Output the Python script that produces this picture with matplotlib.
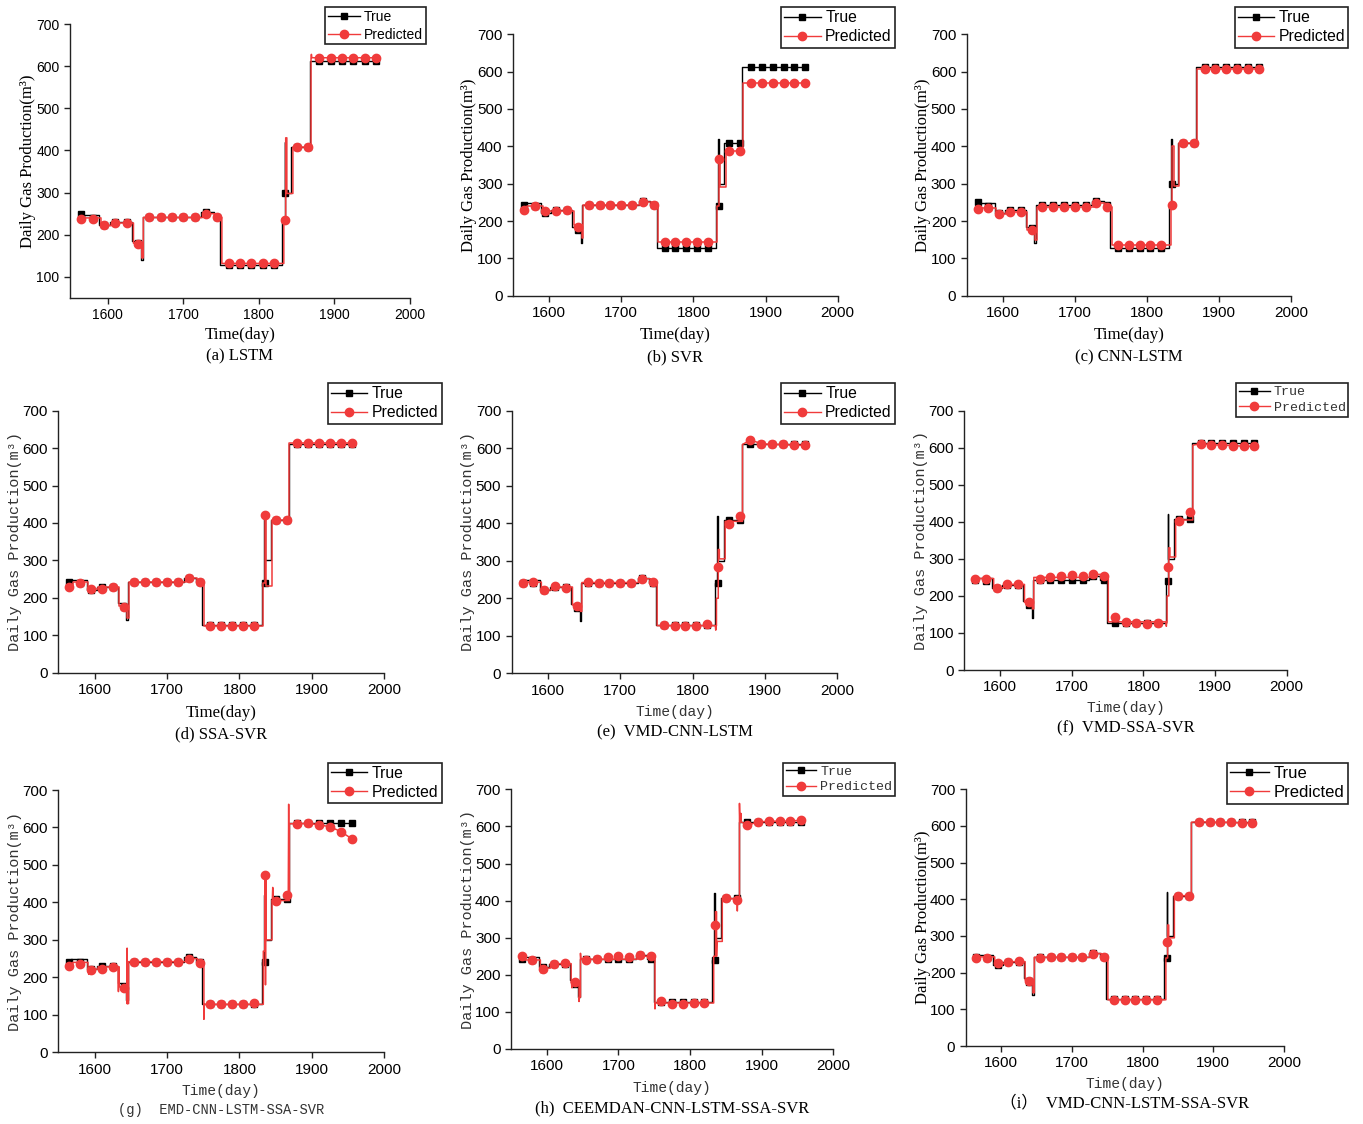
import numpy as np
import matplotlib.pyplot as plt

W, H = 1363, 1124

# marker days (one sample every ~15 days)
marker_days = [1565, 1580, 1595, 1610, 1625, 1640, 1655, 1670, 1685, 1700, 1715, 1730, 1745,
               1760, 1775, 1790, 1805, 1820, 1835, 1850, 1865, 1880, 1895, 1910, 1925, 1940, 1955]

# true production profile (step changes)
true_starts = [1563, 1568, 1589, 1603, 1632, 1644, 1646, 1724, 1740, 1749, 1831, 1834, 1835, 1843, 1868]
true_levels = [245, 248, 222, 230, 185, 140, 242, 253, 242, 128, 240, 420, 300, 408, 612]
last_day = 1955

true_marks = [242, 240, 222, 230, 230, 175, 242, 242, 242, 242, 242, 253, 242,
              128, 128, 128, 128, 128, 240, 408, 408, 612, 612, 612, 612, 612, 612]
true_marks_ac = [250, 240, 222, 230, 230, 180, 242, 242, 242, 242, 242, 253, 242,
                 128, 128, 128, 128, 128, 300, 408, 408, 612, 612, 612, 612, 612, 612]

# predicted profiles (lagged steps)
pred_starts = [1563, 1570, 1591, 1605, 1634, 1645, 1647, 1726, 1742, 1751, 1833, 1835.5, 1837, 1845, 1869]

pred_levels = {
    'a': [238, 240, 222, 228, 180, 145, 241, 250, 241, 132, 235, 430, 298, 408, 620],
    'b': [232, 240, 226, 228, 190, 155, 243, 251, 243, 145, 240, 365, 290, 388, 570],
    'c': [233, 235, 219, 225, 177, 150, 238, 247, 238, 136, 243, 400, 295, 408, 607],
    'd': [232, 242, 223, 228, 178, 145, 242, 252, 242, 125, 240, 421, 232, 407, 615],
    'e': [240, 243, 222, 230, 182, 165, 242, 252, 240, 127, 200, 330, 305, 405, 610],
    'f': [245, 247, 222, 231, 183, 165, 250, 258, 254, 130, 200, 330, 305, 405, 607],
    'g': [232, 240, 222, 228, 175, 130, 242, 250, 240, 128, 270, 472, 300, 405, 610],
    'h': [250, 240, 218, 230, 180, 140, 242, 250, 248, 124, 250, 370, 290, 405, 612],
    'i': [240, 243, 225, 230, 180, 145, 242, 252, 242, 126, 240, 330, 295, 410, 610],
}

pred_marks = {
    'a': [237, 238, 222, 228, 228, 177, 241, 241, 241, 241, 241, 250, 241,
          132, 132, 132, 132, 132, 234, 408, 408, 620, 620, 620, 620, 620, 620],
    'b': [230, 240, 226, 226, 230, 185, 243, 243, 243, 243, 243, 250, 243,
          145, 145, 145, 145, 145, 365, 388, 388, 570, 570, 570, 570, 570, 570],
    'c': [233, 235, 219, 225, 225, 176, 238, 238, 238, 238, 238, 247, 238,
          136, 136, 136, 136, 136, 243, 408, 408, 607, 607, 607, 607, 607, 607],
    'd': [228, 240, 223, 223, 228, 175, 242, 242, 242, 242, 242, 252, 242,
          125, 125, 125, 125, 125, 421, 407, 407, 615, 615, 615, 615, 615, 615],
    'e': [242, 243, 222, 232, 228, 180, 243, 242, 242, 242, 242, 252, 243,
          128, 125, 126, 127, 131, 283, 398, 420, 622, 612, 610, 610, 608, 608],
    'f': [245, 247, 222, 231, 231, 183, 245, 252, 255, 257, 253, 259, 254,
          143, 129, 127, 125, 127, 278, 402, 427, 611, 608, 607, 606, 604, 604],
    'g': [230, 235, 220, 222, 228, 172, 242, 242, 242, 242, 242, 248, 238,
          128, 128, 128, 128, 131, 472, 405, 421, 610, 611, 607, 602, 589, 570],
    'h': [252, 240, 216, 228, 233, 180, 240, 243, 248, 250, 247, 253, 252,
          130, 122, 122, 123, 124, 333, 407, 401, 603, 612, 614, 614, 614, 617],
    'i': [240, 240, 225, 230, 233, 178, 240, 243, 242, 242, 242, 252, 243,
          126, 126, 126, 126, 126, 283, 410, 410, 612, 610, 610, 610, 608, 608],
}

# short spikes in the predicted curves (day, value)
pred_spikes = {
    'a': [(1869.5, 628)],
    'b': [], 'c': [], 'd': [],
    'e': [(1832, 115)],
    'f': [(1832, 118)],
    'g': [(1592, 208), (1633, 162), (1645, 278), (1751, 88), (1836, 180), (1846, 440), (1868, 662)],
    'h': [(1592, 205), (1635, 165), (1645, 128), (1647, 258), (1751, 108), (1837, 250),
          (1866, 372), (1869, 662), (1871, 635)],
    'i': [],
}

titles = {
    'a': '(a) LSTM', 'b': '(b) SVR', 'c': '(c) CNN-LSTM', 'd': '(d) SSA-SVR',
    'e': '(e)  VMD-CNN-LSTM', 'f': '(f)  VMD-SSA-SVR', 'g': '(g)  EMD-CNN-LSTM-SSA-SVR',
    'h': '(h)  CEEMDAN-CNN-LSTM-SSA-SVR', 'i': '\uff08i\uff09  VMD-CNN-LSTM-SSA-SVR',
}

SERIF = ['Liberation Serif', 'Noto Sans CJK SC']
MONO = ['Liberation Mono', 'DejaVu Sans Mono']
SANS = ['Liberation Sans']

# layout in pixels: axes box (left, top, right, bottom), legend upper-right, label positions
panels = {
    'a': dict(box=(70, 24, 410, 298), ylim=(50, 700), leg=(425.7, 7.3), ylx=28, xly=335, suby=356,
              yf=SERIF, xf=SERIF, sf=SERIF, lf=SANS, tick=10, legs=10),
    'b': dict(box=(513, 34.3, 837.7, 295.7), ylim=(0, 700), leg=(895, 7.3), ylx=469, xly=335, suby=357,
              yf=SERIF, xf=SERIF, sf=SERIF, lf=SANS, tick=11, legs=11.3),
    'c': dict(box=(966.7, 34.3, 1291, 295.7), ylim=(0, 700), leg=(1348.3, 7.3), ylx=923, xly=335, suby=357,
              yf=SERIF, xf=SERIF, sf=SERIF, lf=SANS, tick=11, legs=11.3),
    'd': dict(box=(58.3, 410.7, 384.3, 672.7), ylim=(0, 700), leg=(441.7, 383.3), ylx=15, xly=713, suby=734,
              yf=MONO, xf=SERIF, sf=SERIF, lf=SANS, tick=11, legs=11.3),
    'e': dict(box=(511.7, 410.7, 837.3, 673.3), ylim=(0, 700), leg=(895, 383.3), ylx=468, xly=712, suby=732,
              yf=MONO, xf=MONO, sf=SERIF, lf=SANS, tick=11, legs=11.3),
    'f': dict(box=(964.3, 410.7, 1286.7, 670), ylim=(0, 700), leg=(1348.3, 383.3), ylx=921, xly=708, suby=728,
              yf=MONO, xf=MONO, sf=SERIF, lf=MONO, tick=11, legs=9.6),
    'g': dict(box=(58.3, 790, 384.3, 1052.3), ylim=(0, 700), leg=(441.7, 762.7), ylx=15, xly=1091, suby=1110,
              yf=MONO, xf=MONO, sf=MONO, lf=SANS, tick=11, legs=11.3),
    'h': dict(box=(511, 789.3, 833.3, 1049), ylim=(0, 700), leg=(895, 762.7), ylx=468, xly=1088, suby=1108,
              yf=MONO, xf=MONO, sf=SERIF, lf=MONO, tick=11, legs=9.6),
    'i': dict(box=(965.7, 789.3, 1284, 1046), ylim=(0, 700), leg=(1347.7, 762.7), ylx=923, xly=1084, suby=1103,
              yf=SERIF, xf=MONO, sf=SERIF, lf=SANS, tick=11, legs=12),
}

RED = '#f03b3b'


def step_line(starts, levels, end):
    xs, ys = [], []
    for k, (s, v) in enumerate(zip(starts, levels)):
        if k > 0:
            xs.append(s)
            ys.append(levels[k - 1])
        xs.append(s)
        ys.append(v)
    xs.append(end)
    ys.append(levels[-1])
    return xs, ys


def level_at(starts, levels, x):
    idx = np.searchsorted(starts, x, side='right') - 1
    return levels[max(idx, 0)]


def pred_line(tag):
    lv = pred_levels[tag]
    # step part up to the start of the last plateau, then follow markers
    xs, ys = step_line(pred_starts, lv, pred_starts[-1])
    pts = list(zip(xs, ys))
    for d, v in pred_spikes[tag]:
        pts.append((d - 0.6, level_at(pred_starts, lv, d - 0.6)))
        pts.append((d, v))
        pts.append((d + 0.6, level_at(pred_starts, lv, d + 0.6)))
    pts.sort(key=lambda p: p[0])
    for d, v in zip(marker_days, pred_marks[tag]):
        if d > pred_starts[-1]:
            pts.append((d, v))
    return [p[0] for p in pts], [p[1] for p in pts]


fig = plt.figure(figsize=(W / 100, H / 100), dpi=100)

tx, ty = step_line(true_starts, true_levels, last_day)

for tag, p in panels.items():
    l, t, r, b = p['box']
    ax = fig.add_axes([l / W, 1 - b / H, (r - l) / W, (b - t) / H])

    tm = true_marks_ac if tag in ('a', 'c') else true_marks
    ax.plot(tx, ty, color='black', lw=1.0)
    ax.plot(marker_days, tm, ls='none', marker='s', ms=5, color='black')
    px, py = pred_line(tag)
    ax.plot(px, py, color=RED, lw=1.1)
    ax.plot(marker_days, pred_marks[tag], ls='none', marker='o', ms=6, color=RED)

    # legend proxies
    h1, = ax.plot([], [], color='black', lw=1.0, marker='s', ms=5, label='True')
    h2, = ax.plot([], [], color=RED, lw=1.0, marker='o', ms=6, label='Predicted')

    ax.set_xlim(1550, 2000)
    ax.set_ylim(*p['ylim'])
    ax.set_xticks([1600, 1700, 1800, 1900, 2000])
    if p['ylim'][0] == 0:
        ax.set_yticks(range(0, 701, 100))
    else:
        ax.set_yticks(range(100, 701, 100))
    for s in ['top', 'right']:
        ax.spines[s].set_visible(False)
    for s in ['left', 'bottom']:
        ax.spines[s].set_linewidth(1.0)
        ax.spines[s].set_color('#222222')
    ax.tick_params(direction='out', length=4, width=1, colors='#222222', labelsize=p['tick'])
    for lab in ax.get_xticklabels() + ax.get_yticklabels():
        lab.set_family(SANS)
        lab.set_color('black')

    leg = ax.legend(handles=[h1, h2], loc='upper right',
                    bbox_to_anchor=(p['leg'][0] / W, 1 - p['leg'][1] / H),
                    bbox_transform=fig.transFigure, borderaxespad=0,
                    prop={'family': p['lf'], 'size': p['legs']},
                    handlelength=2.3, handletextpad=0.3, labelspacing=0.25,
                    borderpad=0.2, fancybox=False, framealpha=1)
    leg.get_frame().set_edgecolor('#222222')
    leg.get_frame().set_linewidth(1.2)
    if p['lf'] is MONO:
        for txt in leg.get_texts():
            txt.set_color('#333333')

    cx = (l + r) / 2 / W
    cy = (t + b) / 2
    mono_y = p['yf'] is MONO
    fig.text(p['ylx'] / W, 1 - cy / H, 'Daily Gas Production(m\u00b3)', rotation=90,
             ha='center', va='center', family=p['yf'],
             fontsize=11 if mono_y else 12, color='#333333' if mono_y else 'black')
    mono_x = p['xf'] is MONO
    fig.text(cx, 1 - p['xly'] / H, 'Time(day)', ha='center', va='center', family=p['xf'],
             fontsize=10.5 if mono_x else 12.2, color='#333333' if mono_x else 'black')
    mono_s = p['sf'] is MONO
    fig.text(cx, 1 - p['suby'] / H, titles[tag], ha='center', va='center', family=p['sf'],
             fontsize=9.9 if mono_s else 12, color='#333333' if mono_s else 'black')

fig.savefig('out.png', dpi=100)
